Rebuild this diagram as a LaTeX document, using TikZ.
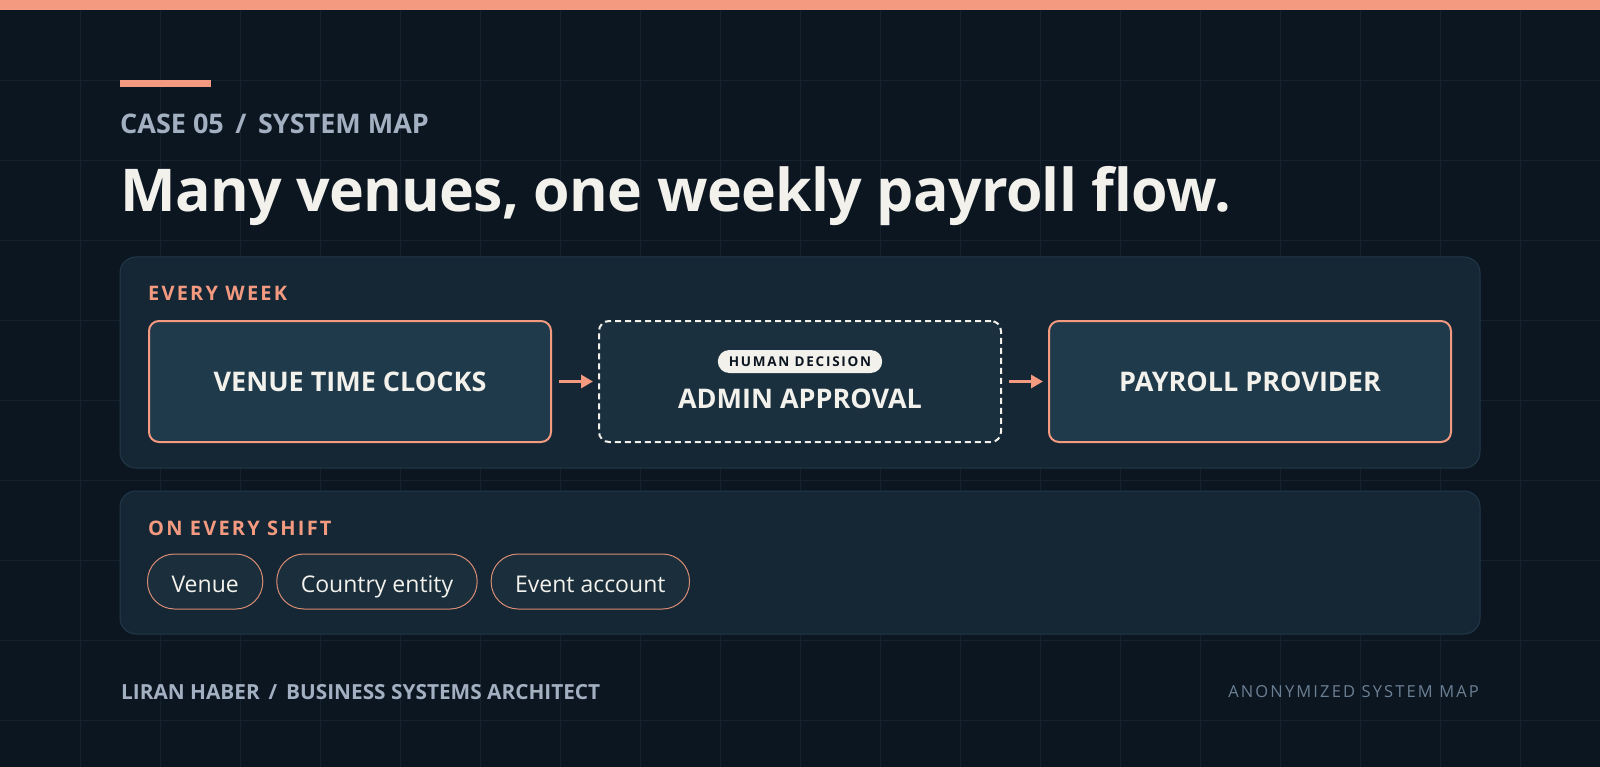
\documentclass[tikz,border=0pt]{standalone}
\usepackage{fontspec}
\setmainfont{Open Sans}
\usetikzlibrary{positioning, arrows.meta}

\definecolor{bgdark}{HTML}{0C1621}
\definecolor{gridline}{HTML}{142230}
\definecolor{salmon}{HTML}{F39A80}
\definecolor{panelfill}{HTML}{152734}
\definecolor{panelline}{HTML}{22384A}
\definecolor{boxfill}{HTML}{1F3A4A}
\definecolor{gatefill}{HTML}{1B303E}
\definecolor{textwhite}{HTML}{F3F1EC}
\definecolor{kickergrey}{HTML}{A3B0C2}
\definecolor{footgrey}{HTML}{6C8094}
\definecolor{pillfill}{HTML}{1A2E3B}
\definecolor{pillline}{HTML}{D98C74}

\tikzset{
	plaintext/.style={inner sep=0pt, anchor=base west},
	kicker/.style={plaintext, text=kickergrey, font=\fontsize{27}{27}\selectfont\bfseries},
	headline/.style={plaintext, text=textwhite, font=\fontsize{59}{59}\selectfont\bfseries\addfontfeatures{LetterSpace=-1.2}},
	section/.style={plaintext, text=salmon, font=\fontsize{20}{20}\selectfont\bfseries\addfontfeatures{LetterSpace=11}},
	panel/.style={fill=panelfill, draw=panelline, line width=1pt, rounded corners=16pt},
	boxtext/.style={text=textwhite, font=\fontsize{27}{27}\selectfont\bfseries},
	flowbox/.style={boxtext, draw=salmon, line width=2pt, fill=boxfill, rounded corners=10pt,
		minimum width=402pt, minimum height=121pt, inner sep=0pt},
	gatebox/.style={draw=textwhite, line width=2pt, dash pattern=on 6pt off 4pt, fill=gatefill,
		rounded corners=10pt, minimum width=402pt, minimum height=121pt, inner sep=0pt},
	badge/.style={fill=textwhite, text=bgdark, rounded corners=11.5pt, minimum height=23pt,
		inner xsep=11pt, inner ysep=0pt, text height=9.5pt, text depth=0pt,
		font=\fontsize{13.5}{13.5}\selectfont\bfseries\addfontfeatures{LetterSpace=13}},
	pill/.style={draw=pillline, line width=1pt, fill=pillfill, rounded corners=27pt, text=textwhite,
		font=\fontsize{23}{23}\selectfont, text height=21pt, text depth=0pt, inner ysep=17pt, inner xsep=24pt},
	flowarrow/.style={draw=salmon, line width=3pt, -{Triangle[length=12pt, width=13pt]},
		shorten <=7pt, shorten >=5pt},
}

\begin{document}
\begin{tikzpicture}[x=1pt, y=-1pt]
		\useasboundingbox (0,0) rectangle (1600,767);
		\fill[bgdark] (0,0) rectangle (1600,767);
		\foreach \x in {80,160,...,1520} \draw[gridline] (\x,0) -- (\x,767);
		\foreach \y in {80,160,...,720} \draw[gridline] (0,\y) -- (1600,\y);
		\fill[salmon] (0,0) rectangle (1600,10);
		\fill[salmon] (120,80) rectangle (211,87);

		\node[kicker] (case) at (120,134) {CASE 05 \,/\, SYSTEM MAP};
		\node[headline] (title) at (120,212) {Many venues, one weekly payroll flow.};

		\draw[panel] (120,257) rectangle (1480,468);
		\node[section] (weekly) at (148,301) {EVERY WEEK};
		\node[flowbox] (clocks) at (350,381.5) {VENUE TIME CLOCKS};
		\node[gatebox] (approval) at (800,381.5) {};
		\node[badge] (human) at (800,361.5) {HUMAN DECISION};
		\node[boxtext, inner sep=0pt, anchor=base] (approvaltext) at (800,408) {ADMIN APPROVAL};
		\node[flowbox] (provider) at (1250,381.5) {PAYROLL PROVIDER};
		\draw[flowarrow] (clocks) -- (approval);
		\draw[flowarrow] (approval) -- (provider);

		\draw[panel] (120,491) rectangle (1480,634);
		\node[section] (shift) at (148,535) {ON EVERY SHIFT};
		\node[pill, anchor=west] (venue) at (147,581.5) {Venue};
		\node[pill, right=13pt of venue] (entity) {Country entity};
		\node[pill, right=13pt of entity] (account) {Event account};

		\node[kicker, font=\fontsize{20.8}{20.8}\selectfont\bfseries] (author) at (121,699) {LIRAN HABER \,/\, BUSINESS SYSTEMS ARCHITECT};
		\node[plaintext, anchor=base east, text=footgrey, font=\fontsize{16.5}{16.5}\selectfont\addfontfeatures{LetterSpace=13}] (anon) at (1479,697) {ANONYMIZED SYSTEM MAP};
\end{tikzpicture}
\end{document}
